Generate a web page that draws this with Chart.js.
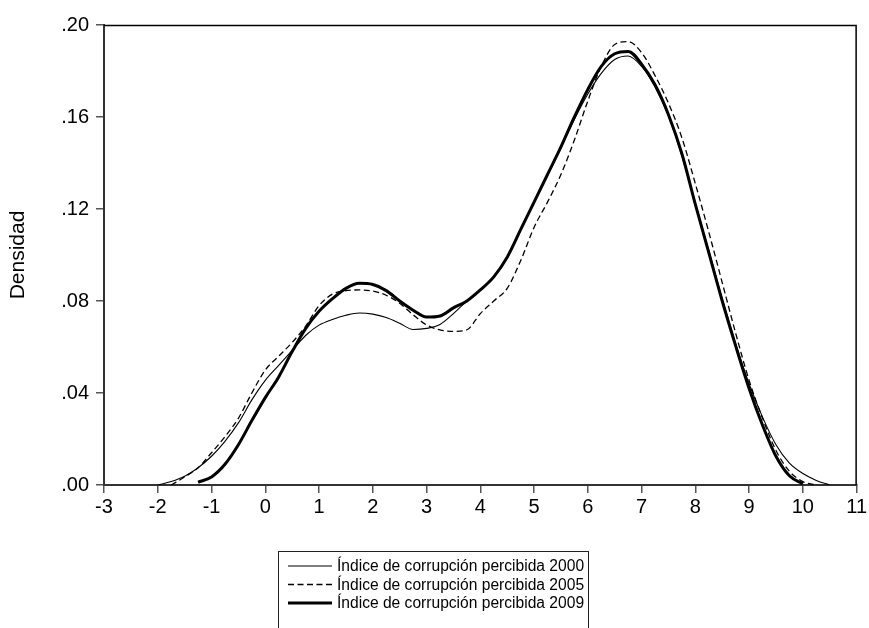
<!DOCTYPE html>
<html><head><meta charset="utf-8">
<script src="https://cdn.jsdelivr.net/npm/chart.js@4/dist/chart.umd.min.js"></script>
<style>html,body{margin:0;padding:0;background:#fff}#wrap{width:869px;height:628px;position:relative;overflow:hidden}</style>
</head><body><div id="wrap"><canvas id="c" width="869" height="628"></canvas></div>
<script>
const xValues = [-2.0,-1.75,-1.5,-1.25,-1.0,-0.75,-0.5,-0.25,0,0.25,0.5,0.75,1.0,1.25,1.5,1.75,2.0,2.25,2.5,2.75,3.0,3.25,3.5,3.75,4.0,4.25,4.5,4.75,5.0,5.25,5.5,5.75,6.0,6.25,6.5,6.75,7.0,7.25,7.5,7.75,8.0,8.25,8.5,8.75,9.0,9.25,9.5,9.75,10.0,10.25,10.5];
const series2000 = [0,0.0015,0.0038,0.0075,0.0125,0.019,0.027,0.037,0.0455,0.052,0.0585,0.065,0.0695,0.072,0.0738,0.0748,0.0743,0.0728,0.0703,0.0676,0.0681,0.0698,0.0745,0.0800,0.0848,0.0900,0.0990,0.1110,0.1230,0.1350,0.1470,0.1590,0.1700,0.1790,0.1850,0.1865,0.1820,0.1730,0.1605,0.1430,0.1225,0.1020,0.0810,0.0615,0.0440,0.0295,0.0175,0.0095,0.0050,0.0020,0];
const series2005 = [null,0,0.0035,0.0075,0.014,0.021,0.029,0.040,0.050,0.056,0.062,0.069,0.078,0.0830,0.0845,0.0848,0.0843,0.0825,0.0790,0.0740,0.0696,0.0674,0.0668,0.0675,0.0745,0.0800,0.0855,0.0975,0.1120,0.1230,0.1350,0.1500,0.1670,0.1820,0.1915,0.1928,0.1880,0.1780,0.1660,0.1510,0.1310,0.1100,0.0880,0.0660,0.0455,0.0290,0.0150,0.0060,0.0015,0,null];
const series2009 = [null,null,null,0.0012,0.0035,0.009,0.0175,0.028,0.038,0.047,0.058,0.068,0.0755,0.081,0.0855,0.0877,0.0872,0.0845,0.0800,0.0760,0.0730,0.0735,0.0770,0.0800,0.0848,0.0905,0.0990,0.1110,0.1230,0.1350,0.1470,0.1600,0.1720,0.1820,0.1875,0.1885,0.1830,0.1740,0.1610,0.1440,0.1220,0.1010,0.0800,0.0605,0.0420,0.0260,0.0125,0.0040,0.0005,null,null];
const seriesLabels = ['Índice de corrupción percibida 2000','Índice de corrupción percibida 2005','Índice de corrupción percibida 2009'];
const xTickValues = [-3,-2,-1,0,1,2,3,4,5,6,7,8,9,10,11];
const xTickLabels = ['-3','-2','-1','0','1','2','3','4','5','6','7','8','9','10','11'];
const yTickValues = [0,0.04,0.08,0.12,0.16,0.20];
const yTickLabels = ['.00','.04','.08','.12','.16','.20'];
const yAxisTitle = 'Densidad';

const FONT = "'Liberation Sans', Arial, sans-serif";
function pts(arr){ const out=[]; xValues.forEach((x,i)=>{ if(arr[i]!=null) out.push({x:x,y:arr[i]}); }); return out; }

const styles = [
  {borderWidth:1.1, borderDash:[]},
  {borderWidth:1.3, borderDash:[6,3.5]},
  {borderWidth:3, borderDash:[]}
];
const seriesData = [series2000, series2005, series2009];

const framePlugin = {
  id:'frame',
  afterDraw(chart){
    const {ctx, chartArea:a} = chart;
    ctx.save();
    ctx.strokeStyle='#000'; ctx.lineWidth=1.5;
    ctx.beginPath();
    ctx.moveTo(a.left, a.top+0.5); ctx.lineTo(a.right-0.5, a.top+0.5); ctx.lineTo(a.right-0.5, a.bottom);
    ctx.stroke();
    const bx=278, by=551, bw=310;
    ctx.lineWidth=1; ctx.strokeStyle='#222';
    ctx.strokeRect(bx+0.5, by+0.5, bw, 90);
    chart.data.datasets.forEach((ds,i)=>{
      const y = 566 + i*18.5;
      ctx.beginPath();
      ctx.setLineDash(ds.borderDash||[]);
      ctx.lineWidth = ds.borderWidth;
      ctx.strokeStyle = '#000';
      ctx.moveTo(288, y); ctx.lineTo(332, y); ctx.stroke();
      ctx.setLineDash([]);
      ctx.fillStyle='#000';
      ctx.font = '15.6px ' + FONT;
      ctx.textBaseline='middle'; ctx.textAlign='left';
      ctx.fillText(ds.label, 337, y+1);
    });
    ctx.restore();
  }
};

new Chart(document.getElementById('c'), {
  type:'line',
  data:{ datasets: seriesData.map((s,i)=>({
    label: seriesLabels[i], data: pts(s), borderColor:'#000', backgroundColor:'#000',
    borderWidth: styles[i].borderWidth, borderDash: styles[i].borderDash,
    pointRadius:0, fill:false, cubicInterpolationMode:'monotone', tension:0.4
  }))},
  options:{
    responsive:false, animation:false,
    plugins:{ legend:{display:false}, tooltip:{enabled:false} },
    layout:{ padding:{top:25, right:11, left:0, bottom:0} },
    scales:{
      x:{ type:'linear', min:-3, max:11,
        afterBuildTicks: s => { s.ticks = xTickValues.map(v=>({value:v})); },
        afterFit: s => { s.height = 143; },
        ticks:{ color:'#000', font:{family:FONT, size:20}, padding:2, autoSkip:false, maxRotation:0,
          callback:(v,i)=> xTickLabels[i] },
        grid:{ drawOnChartArea:false, drawTicks:true, tickLength:8, color:'#555', lineWidth:1.5 },
        border:{ color:'#333', width:2 }
      },
      y:{ min:0, max:0.2,
        afterBuildTicks: s => { s.ticks = yTickValues.map(v=>({value:v})); },
        afterFit: s => { s.width = 104; },
        ticks:{ color:'#000', font:{family:FONT, size:20}, padding:7, callback:(v,i)=> yTickLabels[i] },
        grid:{ drawOnChartArea:false, drawTicks:true, tickLength:8, color:'#555', lineWidth:1.5 },
        border:{ color:'#333', width:2 },
        title:{ display:true, text:yAxisTitle, color:'#000', font:{family:FONT, size:21}, padding:{top:6,bottom:0} }
      }
    }
  },
  plugins:[framePlugin]
});
</script>
</body></html>
